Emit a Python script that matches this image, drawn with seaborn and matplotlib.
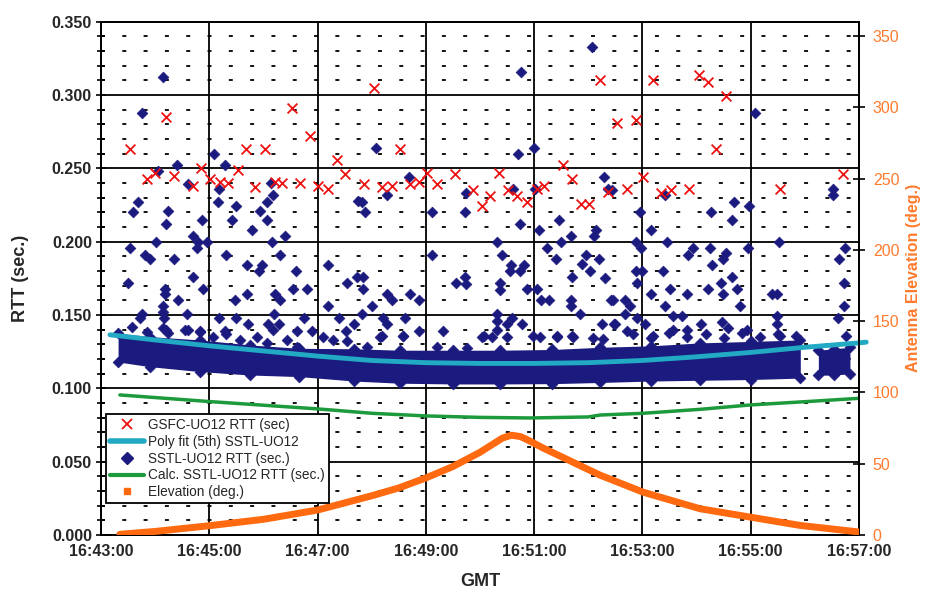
import numpy as np
import matplotlib.pyplot as plt
import pandas as pd
import seaborn as sns
from matplotlib.lines import Line2D

# time is seconds after 16:43:00
gsfc_t = [72, 212, 232, 32, 161, 182, 262, 111, 152, 271,
          51, 81, 60, 121, 132, 141, 102, 171, 193, 201, 221, 241, 252,
          303, 553, 572, 331, 512, 361, 392, 441, 522,
          291, 312, 323, 342, 352, 372, 412, 422, 431, 451, 461, 472, 483, 491, 532, 541, 562,
          612, 663, 673, 693, 593, 682, 601, 822,
          583, 621, 632, 652, 752]
gsfc_rtt = [0.285, 0.291, 0.272, 0.263, 0.263, 0.263, 0.256, 0.250, 0.249, 0.246,
            0.243, 0.245, 0.247, 0.243, 0.241, 0.240, 0.238, 0.237, 0.241, 0.240, 0.240, 0.238, 0.236,
            0.305, 0.310, 0.281, 0.263, 0.252, 0.247, 0.246, 0.247, 0.243,
            0.239, 0.237, 0.238, 0.239, 0.241, 0.239, 0.235, 0.224, 0.231, 0.235, 0.231, 0.227, 0.236, 0.238, 0.226, 0.226, 0.234,
            0.310, 0.314, 0.309, 0.299, 0.283, 0.263, 0.244, 0.246,
            0.236, 0.233, 0.235, 0.236, 0.236]

# scattered SSTL samples above the dense band
sstl_t = [69, 46, 125, 137, 84, 63,
          465, 544, 305, 462, 480, 341, 557, 725,
          97, 131, 189, 191, 184, 41, 36, 74, 72, 112, 130, 150, 145, 176, 184, 167, 204, 190, 198,
          61, 32, 102, 108, 118, 106, 49, 54, 81, 139, 162, 178, 175, 216, 252, 102, 30, 273, 284,
          71, 113, 71, 85, 213, 228, 162, 149, 193, 198, 69, 69, 95, 45, 43, 70, 252, 192, 225, 131,
          150, 264, 280, 163, 185, 197, 137, 217, 234, 272, 72, 97, 110, 191, 285,
          317, 289, 293, 367, 403, 405, 457, 481, 464, 485, 508, 562, 549, 546, 521, 510, 494, 439,
          444, 367, 454, 469, 453, 464, 504, 537, 533, 552, 542, 522, 559, 403, 394, 405, 442, 442,
          472, 483, 290, 290, 317, 322, 342, 353, 300, 488, 496, 521, 521, 531, 565, 289, 313, 317,
          337, 439, 439, 455, 467, 555, 568, 379, 352, 335, 311, 439, 450, 424, 479, 505, 522,
          566, 625, 597, 610, 701, 718, 676, 699, 811, 811, 593, 599, 627, 656, 651, 675, 693, 689,
          677, 717, 751, 825, 818, 593, 600, 623, 594, 699, 687, 673, 705, 631, 689, 649, 610, 823,
          744, 749, 625, 708, 823, 567, 581, 586, 581, 594, 603, 634, 644, 665, 688, 695, 749, 749,
          817, 570, 583, 634, 649, 716, 752, 826, 612]
sstl_rtt = [0.312, 0.288, 0.260, 0.252, 0.252, 0.248,
            0.316, 0.333, 0.264, 0.260, 0.264, 0.244, 0.244, 0.288,
            0.239, 0.236, 0.240, 0.232, 0.227, 0.227, 0.220, 0.221, 0.212, 0.215, 0.227, 0.224, 0.215, 0.221, 0.215, 0.208, 0.204, 0.200, 0.191,
            0.200, 0.196, 0.204, 0.200, 0.200, 0.196, 0.191, 0.188, 0.188, 0.191, 0.184, 0.184, 0.180, 0.180, 0.184, 0.176, 0.172, 0.172, 0.176,
            0.168, 0.168, 0.164, 0.160, 0.168, 0.168, 0.164, 0.160, 0.164, 0.160, 0.156, 0.152, 0.151, 0.151, 0.148, 0.148, 0.156, 0.151, 0.148, 0.148,
            0.148, 0.148, 0.144, 0.144, 0.144, 0.144, 0.139, 0.139, 0.139, 0.139, 0.140, 0.140, 0.139, 0.140, 0.228,
            0.232, 0.227, 0.220, 0.220, 0.220, 0.233, 0.236, 0.236, 0.212, 0.208, 0.215, 0.236, 0.208, 0.204, 0.204, 0.200, 0.196, 0.200,
            0.191, 0.191, 0.184, 0.184, 0.180, 0.180, 0.188, 0.191, 0.185, 0.188, 0.180, 0.176, 0.175, 0.176, 0.172, 0.171, 0.172, 0.167,
            0.168, 0.168, 0.176, 0.168, 0.164, 0.160, 0.164, 0.160, 0.156, 0.160, 0.160, 0.160, 0.156, 0.151, 0.160, 0.151, 0.148, 0.144,
            0.148, 0.151, 0.146, 0.148, 0.144, 0.144, 0.144, 0.139, 0.139, 0.136, 0.136, 0.140, 0.144, 0.136, 0.136, 0.136, 0.136,
            0.235, 0.232, 0.220, 0.208, 0.227, 0.224, 0.220, 0.215, 0.236, 0.232, 0.200, 0.196, 0.200, 0.196, 0.191, 0.196, 0.192, 0.188,
            0.184, 0.196, 0.200, 0.196, 0.188, 0.180, 0.180, 0.180, 0.172, 0.176, 0.172, 0.168, 0.168, 0.168, 0.164, 0.164, 0.164, 0.172,
            0.164, 0.164, 0.156, 0.156, 0.156, 0.160, 0.160, 0.156, 0.151, 0.148, 0.144, 0.149, 0.149, 0.144, 0.145, 0.141, 0.149, 0.144,
            0.148, 0.144, 0.139, 0.140, 0.140, 0.140, 0.136, 0.136, 0.136]

# SSTL samples sitting on the upper rim of the dense band
rim_t = [34, 51, 69, 74, 93, 110, 124, 139, 154, 173, 184, 206, 217,
         246, 257, 273, 295, 309, 335, 372, 406, 422, 433, 450, 486, 505, 523, 545, 556,
         590, 610, 630, 650, 670, 690, 710, 730, 750, 770]
rim_rtt = [0.142, 0.1387, 0.141, 0.1377, 0.1398, 0.1387, 0.1352, 0.137, 0.133, 0.1352, 0.1307, 0.133, 0.1284,
           0.135, 0.133, 0.132, 0.128, 0.135, 0.136, 0.128, 0.1275, 0.135, 0.135, 0.135, 0.135, 0.135, 0.135, 0.134, 0.1335,
           0.137, 0.134, 0.138, 0.135, 0.137, 0.134, 0.138, 0.135, 0.137, 0.136]

# dense band of SSTL samples (edges)
band_t = [19, 54, 110, 165, 220, 280, 331, 390, 442, 500, 553, 610, 664, 720, 775]
band_hi = [0.1376, 0.1353, 0.133, 0.1296, 0.1273, 0.127, 0.126, 0.126, 0.126, 0.1265, 0.128, 0.129, 0.131, 0.132, 0.133]
band_lo = [0.118, 0.1148, 0.1114, 0.1091, 0.108, 0.105, 0.1035, 0.103, 0.103, 0.1032, 0.104, 0.105, 0.1055, 0.106, 0.107]
band2_t = [795, 812, 830]
band2_hi = [0.126, 0.127, 0.128]
band2_lo = [0.109, 0.109, 0.110]

fit_t = [10, 60, 120, 180, 240, 300, 360, 420, 480, 540, 600, 660, 720, 780, 840, 848]
fit_rtt = [0.1365, 0.133, 0.129, 0.1255, 0.122, 0.119, 0.1175, 0.117, 0.117, 0.1175, 0.119, 0.1215, 0.1245, 0.128, 0.131, 0.1315]

calc_t = [21, 120, 240, 300, 360, 420, 476, 540, 553, 601, 664, 720, 780, 840, 850]
calc_rtt = [0.0955, 0.091, 0.086, 0.083, 0.0812, 0.0802, 0.0798, 0.0805, 0.0818, 0.083, 0.0857, 0.0887, 0.0909, 0.0932, 0.0936]

elev_t = [21, 60, 120, 180, 240, 300, 330, 360, 390, 420, 435, 445, 455, 465, 475, 490, 510, 553, 601, 664, 720, 775, 842]
elev_deg = [0.5, 2.5, 6.5, 11, 17.5, 27.5, 33, 40, 48, 58, 64, 68, 70, 69, 66, 61, 55, 42, 30, 18.4, 12.5, 6.7, 2]

navy = '#1b1a7e'
cyan = '#22a9c4'
green = '#1d9a3c'
orange = '#ff6a10'
orange_txt = '#ff7b2e'
font = ['Liberation Sans', 'DejaVu Sans']


def fmt_time(v):
    s = int(round(v))
    return f'16:{43 + s // 60:02d}:{s % 60:02d}'


sns.set_style('white')
plt.rcParams['font.family'] = font

fig = plt.figure(figsize=(9.26, 5.93), dpi=100)
ax = fig.add_axes([0.109, 0.0978, 0.8186, 0.8656])

ax.fill_between(band_t, band_lo, band_hi, color=navy, lw=0, zorder=3)
ax.fill_between(band2_t, band2_lo, band2_hi, color=navy, lw=0, zorder=3)
band_df = pd.DataFrame({'t': band_t + band_t + band2_t + band2_t + rim_t,
                        'rtt': band_hi + band_lo + band2_hi + band2_lo + rim_rtt})
sns.scatterplot(data=band_df, x='t', y='rtt', ax=ax, marker='D', s=30, color=navy,
                edgecolor=navy, linewidth=0.5, legend=False, zorder=3)

sstl = pd.DataFrame({'t': sstl_t, 'rtt': sstl_rtt})
sns.scatterplot(data=sstl, x='t', y='rtt', ax=ax, marker='D', s=30, color=navy,
                edgecolor=navy, linewidth=0.5, legend=False, zorder=4)

gsfc = pd.DataFrame({'t': gsfc_t, 'rtt': gsfc_rtt})
sns.scatterplot(data=gsfc, x='t', y='rtt', ax=ax, marker='x', s=50, color='#ee1111',
                linewidth=1.3, legend=False, zorder=5)

sns.lineplot(x=fit_t, y=fit_rtt, ax=ax, color=cyan, lw=3.5, zorder=6, clip_on=False)
sns.lineplot(x=calc_t, y=calc_rtt, ax=ax, color=green, lw=2.5, zorder=6)

ax.set_xlim(0, 840)
ax.set_ylim(0, 0.35)
xt = list(range(0, 841, 120))
ax.set_xticks(xt, [fmt_time(v) for v in xt], fontsize=11.5, fontweight='bold')
yt = [i * 0.05 for i in range(8)]
ax.set_yticks(yt, [f'{v:.3f}' for v in yt], fontsize=11.5, fontweight='bold')
ax.set_yticks([i * 0.01 for i in range(36) if i % 5], minor=True)
ax.tick_params(axis='both', which='major', direction='inout', length=7, width=1.2, color='black', pad=3)
ax.tick_params(axis='y', which='minor', direction='inout', length=6, width=1.2, color='black', left=True)
ax.grid(which='major', color='black', lw=1.3)
ax.grid(which='minor', axis='y', color='black', lw=1.3, linestyle=(0, (2.2, 9.6)))
ax.set_axisbelow(True)
for sp in ax.spines.values():
    sp.set_color('black')
    sp.set_linewidth(1.3)
ax.set_xlabel('GMT', fontsize=13, fontweight='bold', labelpad=10)
ax.set_ylabel('RTT (sec.)', fontsize=13, fontweight='bold', labelpad=16)

ax2 = ax.twinx()
sns.lineplot(x=elev_t, y=elev_deg, ax=ax2, color=orange, lw=5, zorder=5)
ax2.set_ylim(0, 360)
et = list(range(0, 351, 50))
ax2.set_yticks(et, [str(v) for v in et], fontsize=11.5, color=orange_txt)
ax2.tick_params(axis='y', direction='inout', length=8, width=1.2, color='black', pad=6)
ax2.grid(False)
for sp in ax2.spines.values():
    sp.set_color('black')
    sp.set_linewidth(1.3)
ax2.set_ylabel('Antenna Elevation (deg.)', fontsize=11.5, fontweight='bold', color=orange_txt, labelpad=5)

handles = [
    Line2D([], [], ls='none', marker='x', ms=7, mew=1.3, color='#ee1111'),
    Line2D([], [], color=cyan, lw=4),
    Line2D([], [], ls='none', marker='D', ms=6, color=navy),
    Line2D([], [], color=green, lw=3),
    Line2D([], [], ls='none', marker='s', ms=4, color=orange),
]
labels = ['GSFC-UO12 RTT (sec)', 'Poly fit (5th) SSTL-UO12', 'SSTL-UO12 RTT (sec.)',
          'Calc. SSTL-UO12 RTT (sec.)', 'Elevation (deg.)']
leg = ax2.legend(handles, labels, loc='lower left', bbox_to_anchor=(0.0066, 0.062),
                 borderaxespad=0, frameon=True, fancybox=False, framealpha=1,
                 edgecolor='black', fontsize=9.8, handlelength=2.5, handletextpad=0.3,
                 labelspacing=0.2, borderpad=0.3)
leg.get_frame().set_linewidth(1.3)

fig.savefig('out.png', dpi=100)
